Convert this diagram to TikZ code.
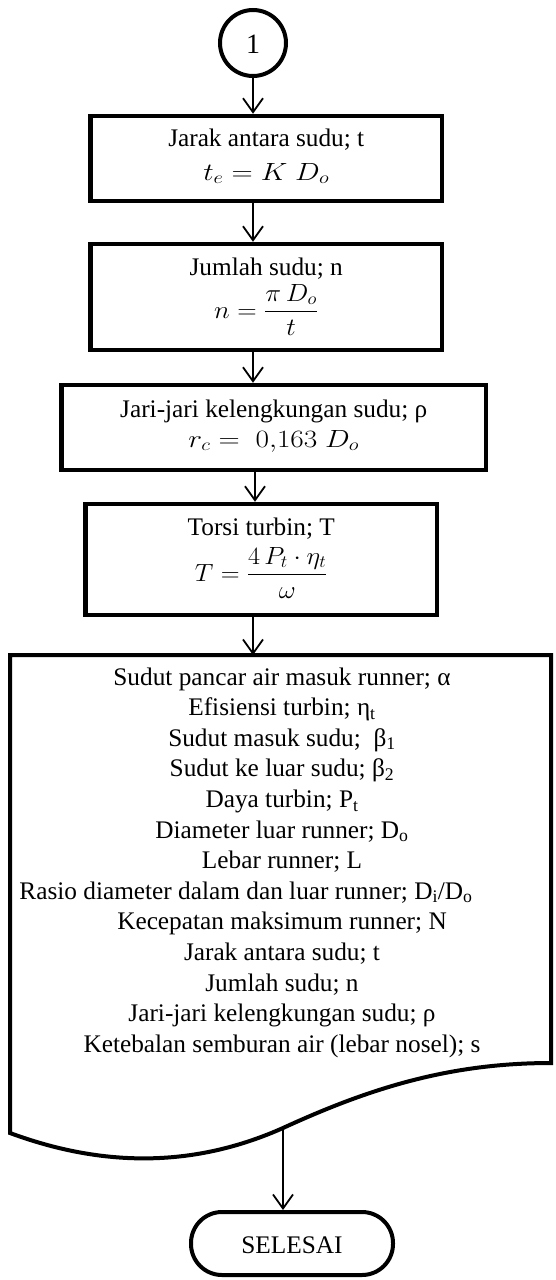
\documentclass[tikz,border=0pt]{standalone}
\usepackage{amsmath}
\usepackage{graphicx}
\usepackage{fontspec}
\setmainfont{Liberation Serif}
\usetikzlibrary{arrows.meta}
\begin{document}
\begin{tikzpicture}[x=1pt,y=-1pt,
  box/.style={draw, line width=4.5pt, inner sep=0pt, minimum width=351.5pt},
  conn/.style={line width=1.8pt, -{Straight Barb[length=14pt,width=20pt,line width=1.8pt]}},
  txt/.style={inner sep=0pt, anchor=base, font=\fontsize{25.3}{30}\selectfont},
  mth/.style={inner sep=0pt, anchor=base, font=\fontsize{24}{28}\selectfont},
  heavy/.style={line width=4pt}]
\useasboundingbox (0,0) rectangle (555,1280);

% start connector
\node[circle, draw, heavy, minimum size=66pt, inner sep=0pt] (c1) at (253,43) {};
\node[inner sep=0pt, anchor=base, font=\fontsize{28}{32}\selectfont] (c1t) at (253,53) {1};

% box 1
\node[box, minimum height=85pt] (b1) at (266.25,158.5) {};
\node[txt] (b1t) at (266.25,146) {Jarak antara sudu; t};
\node[mth, font=\fontsize{26}{30}\selectfont] (b1f) at (266.25,180) {\scalebox{1.18}[1]{$t_e = K\ D_o$}};

% box 2
\node[box, minimum height=106pt] (b2) at (266.25,297) {};
\node[txt] (b2t) at (266.25,275) {Jumlah sudu; n};
\node[mth] (b2f) at (266.25,318) {\scalebox{1.08}[1]{$n = \dfrac{\pi\, D_o}{t}$}};

% box 3
\node[box, minimum width=424.5pt, minimum height=85pt] (b3) at (273.75,427.5) {};
\node[txt] (b3t) at (273.75,417) {Jari-jari kelengkungan sudu; ρ};
\node[mth, font=\fontsize{26}{30}\selectfont] (b3f) at (273.75,447) {\scalebox{1.18}[1]{$r_c =\ 0{,}163\ D_o$}};

% box 4
\node[box, minimum height=111pt] (b4) at (261.25,559.5) {};
\node[txt] (b4t) at (261.25,535) {Torsi turbin; T};
\node[mth, font=\fontsize{23}{27}\selectfont] (b4f) at (261.25,581) {\scalebox{1.05}[1]{$T = \dfrac{4\,P_t\cdot\eta_t}{\omega}$}};

% document shape
\draw[heavy, line join=miter] (10,655) coordinate (docTL) -- (551,655) coordinate (docTR) -- (551,1063)
  .. controls (450,1063) and (370,1088) .. (283,1128) coordinate (wv)
  .. controls (200,1165) and (110,1170) .. (10,1133) -- cycle;

\node[txt] (l1) at (282,685) {Sudut pancar air masuk runner; α};
\node[txt] (l2) at (282,715.6) {Efisiensi turbin; η\textsubscript{t}};
\node[txt] (l3) at (282,746.2) {Sudut masuk sudu;\ \ β\textsubscript{1}};
\node[txt] (l4) at (282,776.8) {Sudut ke luar sudu; β\textsubscript{2}};
\node[txt] (l5) at (282,807.4) {Daya turbin; P\textsubscript{t}};
\node[txt] (l6) at (282,838) {Diameter luar runner; D\textsubscript{o}};
\node[txt] (l7) at (282,868.6) {Lebar runner; L};
\node[txt] (l8) at (246,899.2) {Rasio diameter dalam dan luar runner; D\textsubscript{i}/D\textsubscript{o}};
\node[txt] (l9) at (282,929.8) {Kecepatan maksimum runner; N};
\node[txt] (l10) at (282,960.4) {Jarak antara sudu; t};
\node[txt] (l11) at (282,991) {Jumlah sudu; n};
\node[txt] (l12) at (282,1021.6) {Jari-jari kelengkungan sudu; ρ};
\node[txt] (l13) at (282,1052.2) {Ketebalan semburan air (lebar nosel); s};

% terminator
\node[draw, heavy, rounded corners=31pt, minimum width=202pt, minimum height=63pt, inner sep=0pt] (s) at (292,1243.5) {};
\node[txt] (st) at (292,1253) {SELESAI};

% connectors
\draw[conn] (c1.south) -- (c1.south |- b1.north);
\draw[conn] (b1.south -| c1.south) -- (b2.north -| c1.south);
\draw[conn] (b2.south -| c1.south) -- (b3.north -| c1.south);
\draw[conn] ([xshift=2pt]b3.south -| c1.south) -- ([xshift=2pt]b4.north -| c1.south);
\draw[conn] (b4.south -| c1.south) -- (c1.south |- docTL);
\draw[conn] (wv) -- (wv |- s.north);
\end{tikzpicture}
\end{document}
